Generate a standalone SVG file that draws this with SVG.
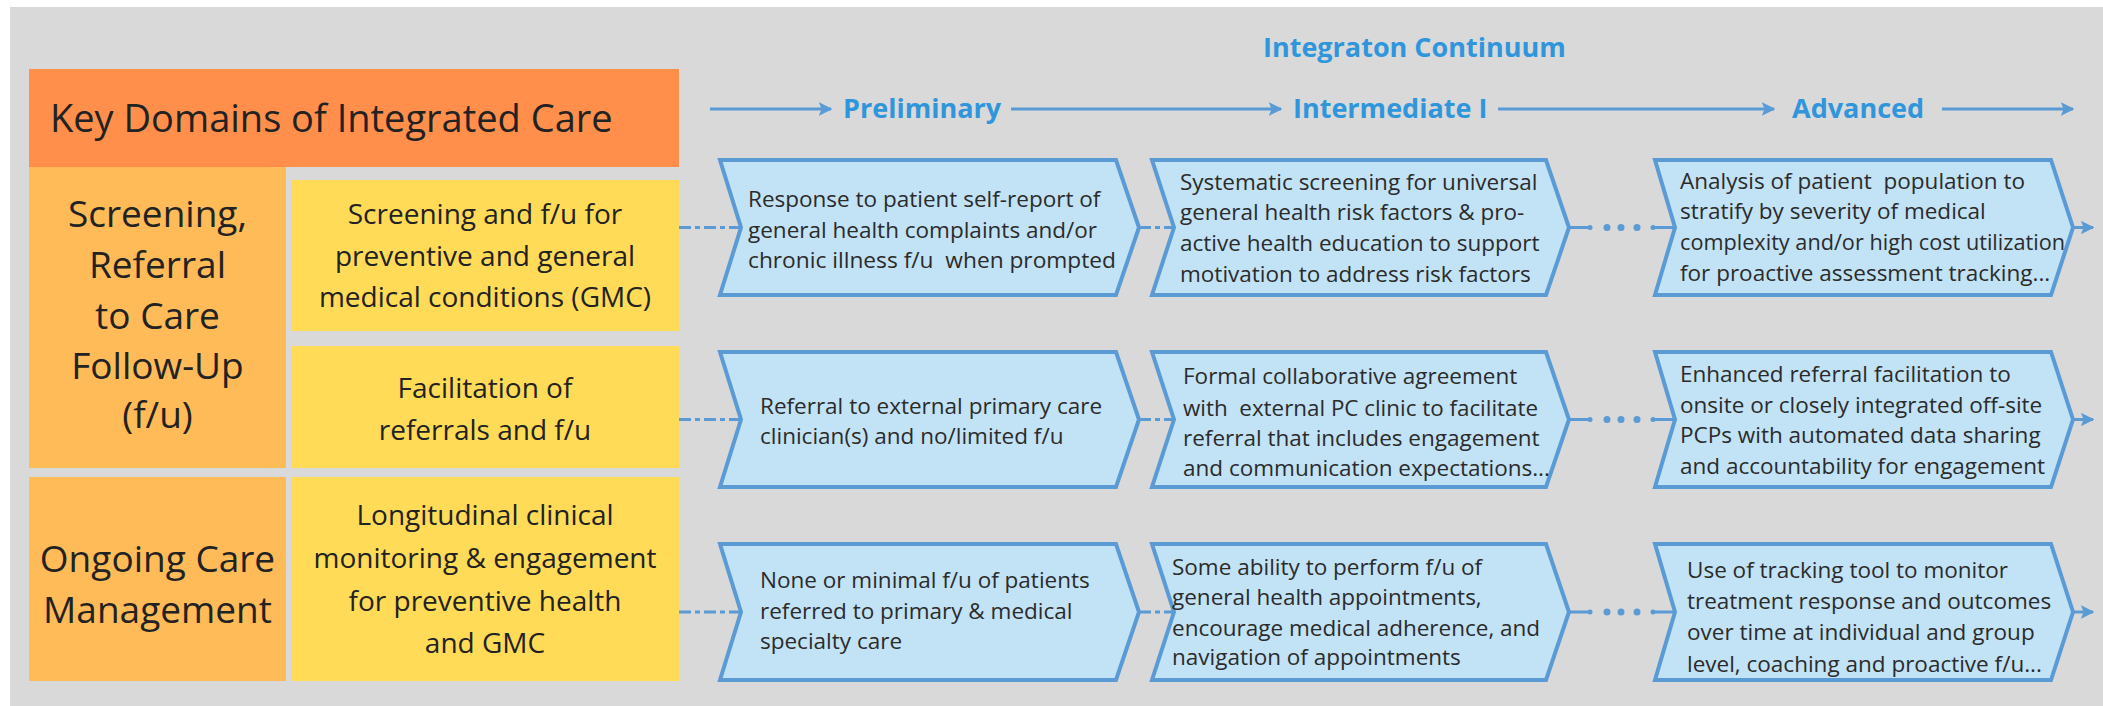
<svg xmlns="http://www.w3.org/2000/svg" width="2103" height="706" viewBox="0 0 2103 706">
<defs>
<style>
.bg{fill:#d9d9d9}
.hdr{fill:#ff8f4b}
.dom{fill:#ffbb58}
.sub{fill:#ffdb58}
.chev{fill:#c2e2f6;stroke:#5b9bd5;stroke-width:4;stroke-linejoin:miter}
.t{font-family:"Open Sans","Liberation Sans",sans-serif;fill:#222}
.big{font-size:37px;text-anchor:middle}
.mid{font-size:28px;text-anchor:middle}
.sm{font-size:22.5px;fill:#2b2b2b;white-space:pre}
.blue{font-family:"Open Sans","Liberation Sans",sans-serif;font-weight:700;fill:#2f96dc;font-size:27px}
.ln{stroke:#5b9bd5;stroke-width:3;fill:none}
.dash{stroke:#5b9bd5;stroke-width:3;fill:none;stroke-dasharray:12 4 5 4}
.dot{fill:#5b9bd5}
</style>
<marker id="ah" viewBox="0 0 10 10" refX="9" refY="5" markerWidth="4.5" markerHeight="4.5" orient="auto" markerUnits="strokeWidth">
<path d="M0,0 L10,5 L0,10 L2,5 z" fill="#5b9bd5"/>
</marker>
</defs>
<rect class="bg" x="10" y="7" width="2093" height="699"/>

<g id="title">
<text class="blue" x="1263" y="57">Integraton Continuum</text>
</g>

<g id="stages">
<text class="blue" x="843" y="118">Preliminary</text>
<text class="blue" x="1293" y="118">Intermediate I</text>
<text class="blue" x="1792" y="118">Advanced</text>
</g>

<g id="header">
<rect class="hdr" x="29" y="69" width="650" height="98"/>
<text class="t" x="50" y="132" font-size="38">Key Domains of Integrated Care</text>
</g>

<g id="domain-screening">
<rect class="dom" x="29" y="167" width="257" height="301"/>
<text class="t big" x="157.5" y="227">Screening,</text>
<text class="t big" x="157.5" y="278">Referral</text>
<text class="t big" x="157.5" y="329">to Care</text>
<text class="t big" x="157.5" y="379">Follow-Up</text>
<text class="t big" x="157.5" y="428">(f/u)</text>
</g>

<g id="domain-ongoing">
<rect class="dom" x="29" y="477" width="257" height="204"/>
<text class="t big" x="157.5" y="572">Ongoing Care</text>
<text class="t big" x="157.5" y="623">Management</text>
</g>

<g id="sub-screening">
<rect class="sub" x="291" y="180" width="388" height="151"/>
<text class="t mid" x="485" y="224">Screening and f/u for</text>
<text class="t mid" x="485" y="265.5">preventive and general</text>
<text class="t mid" x="485" y="307">medical conditions (GMC)</text>
</g>

<g id="sub-referrals">
<rect class="sub" x="291" y="346" width="388" height="122"/>
<text class="t mid" x="485" y="398">Facilitation of</text>
<text class="t mid" x="485" y="440">referrals and f/u</text>
</g>

<g id="sub-longitudinal">
<rect class="sub" x="291" y="477" width="388" height="204"/>
<text class="t mid" x="485" y="525">Longitudinal clinical</text>
<text class="t mid" x="485" y="568">monitoring &amp; engagement</text>
<text class="t mid" x="485" y="611">for preventive health</text>
<text class="t mid" x="485" y="653">and GMC</text>
</g>

<g id="connectors">
<line class="ln" x1="710" y1="109" x2="831" y2="109" marker-end="url(#ah)"/>
<line class="ln" x1="1011" y1="109" x2="1281" y2="109" marker-end="url(#ah)"/>
<line class="ln" x1="1498" y1="109" x2="1774" y2="109" marker-end="url(#ah)"/>
<line class="ln" x1="1942" y1="109" x2="2073" y2="109" marker-end="url(#ah)"/>

<line class="dash" x1="679" y1="227.5" x2="741" y2="227.5"/>
<line class="dash" x1="679" y1="419.5" x2="741" y2="419.5"/>
<line class="dash" x1="679" y1="612" x2="741" y2="612"/>

<line class="dash" x1="1139" y1="227.5" x2="1174" y2="227.5"/>
<line class="dash" x1="1139" y1="419.5" x2="1174" y2="419.5"/>
<line class="dash" x1="1139" y1="612" x2="1174" y2="612"/>

<g id="dots-r1">
<line class="ln" x1="1569" y1="227.5" x2="1589" y2="227.5"/>
<circle class="dot" cx="1590" cy="227.5" r="2.5"/>
<circle class="dot" cx="1607" cy="227.5" r="3.5"/>
<circle class="dot" cx="1621" cy="227.5" r="3.5"/>
<circle class="dot" cx="1637" cy="227.5" r="3.5"/>
<circle class="dot" cx="1653" cy="227.5" r="2.5"/>
<line class="ln" x1="1653" y1="227.5" x2="1675" y2="227.5"/>
</g>
<g id="dots-r2">
<line class="ln" x1="1569" y1="419.5" x2="1589" y2="419.5"/>
<circle class="dot" cx="1590" cy="419.5" r="2.5"/>
<circle class="dot" cx="1607" cy="419.5" r="3.5"/>
<circle class="dot" cx="1621" cy="419.5" r="3.5"/>
<circle class="dot" cx="1637" cy="419.5" r="3.5"/>
<circle class="dot" cx="1653" cy="419.5" r="2.5"/>
<line class="ln" x1="1653" y1="419.5" x2="1675" y2="419.5"/>
</g>
<g id="dots-r3">
<line class="ln" x1="1569" y1="612" x2="1589" y2="612"/>
<circle class="dot" cx="1590" cy="612" r="2.5"/>
<circle class="dot" cx="1607" cy="612" r="3.5"/>
<circle class="dot" cx="1621" cy="612" r="3.5"/>
<circle class="dot" cx="1637" cy="612" r="3.5"/>
<circle class="dot" cx="1653" cy="612" r="2.5"/>
<line class="ln" x1="1653" y1="612" x2="1675" y2="612"/>
</g>

<line class="ln" x1="2073" y1="227.5" x2="2093" y2="227.5" marker-end="url(#ah)"/>
<line class="ln" x1="2073" y1="419.5" x2="2093" y2="419.5" marker-end="url(#ah)"/>
<line class="ln" x1="2073" y1="612" x2="2093" y2="612" marker-end="url(#ah)"/>
</g>

<g id="r1c1">
<polygon class="chev" points="720,160 1116,160 1139,227.5 1116,295 720,295 741,227.5"/>
<text class="t sm" x="748" y="207">Response to patient self-report of</text>
<text class="t sm" x="748" y="238">general health complaints and/or</text>
<text class="t sm" x="748" y="268" textLength="368" lengthAdjust="spacingAndGlyphs">chronic illness f/u  when prompted</text>
</g>
<g id="r1c2">
<polygon class="chev" points="1152,160 1546,160 1569,227.5 1546,295 1152,295 1174,227.5"/>
<text class="t sm" x="1180" y="190">Systematic screening for universal</text>
<text class="t sm" x="1180" y="220">general health risk factors &amp; pro-</text>
<text class="t sm" x="1180" y="251">active health education to support</text>
<text class="t sm" x="1180" y="282">motivation to address risk factors</text>
</g>
<g id="r1c3">
<polygon class="chev" points="1655,160 2051,160 2073,227.5 2051,295 1655,295 1675,227.5"/>
<text class="t sm" x="1680" y="189">Analysis of patient  population to</text>
<text class="t sm" x="1680" y="219">stratify by severity of medical</text>
<text class="t sm" x="1680" y="250" textLength="385" lengthAdjust="spacingAndGlyphs">complexity and/or high cost utilization</text>
<text class="t sm" x="1680" y="281">for proactive assessment tracking...</text>
</g>

<g id="r2c1">
<polygon class="chev" points="720,352 1116,352 1139,419.5 1116,487 720,487 741,419.5"/>
<text class="t sm" x="760" y="414">Referral to external primary care</text>
<text class="t sm" x="760" y="444">clinician(s) and no/limited f/u</text>
</g>
<g id="r2c2">
<polygon class="chev" points="1152,352 1546,352 1569,419.5 1546,487 1152,487 1174,419.5"/>
<text class="t sm" x="1183" y="384">Formal collaborative agreement</text>
<text class="t sm" x="1183" y="416" textLength="355" lengthAdjust="spacingAndGlyphs">with  external PC clinic to facilitate</text>
<text class="t sm" x="1183" y="446">referral that includes engagement</text>
<text class="t sm" x="1183" y="476">and communication expectations...</text>
</g>
<g id="r2c3">
<polygon class="chev" points="1655,352 2051,352 2073,419.5 2051,487 1655,487 1675,419.5"/>
<text class="t sm" x="1680" y="382">Enhanced referral facilitation to</text>
<text class="t sm" x="1680" y="413">onsite or closely integrated off-site</text>
<text class="t sm" x="1680" y="443">PCPs with automated data sharing</text>
<text class="t sm" x="1680" y="474">and accountability for engagement</text>
</g>

<g id="r3c1">
<polygon class="chev" points="720,544 1116,544 1139,612 1116,680 720,680 741,612"/>
<text class="t sm" x="760" y="588">None or minimal f/u of patients</text>
<text class="t sm" x="760" y="619">referred to primary &amp; medical</text>
<text class="t sm" x="760" y="649">specialty care</text>
</g>
<g id="r3c2">
<polygon class="chev" points="1152,544 1546,544 1569,612 1546,680 1152,680 1174,612"/>
<text class="t sm" x="1172" y="575">Some ability to perform f/u of</text>
<text class="t sm" x="1172" y="605">general health appointments,</text>
<text class="t sm" x="1172" y="636">encourage medical adherence, and</text>
<text class="t sm" x="1172" y="665">navigation of appointments</text>
</g>
<g id="r3c3">
<polygon class="chev" points="1655,544 2051,544 2073,612 2051,680 1655,680 1675,612"/>
<text class="t sm" x="1687" y="578">Use of tracking tool to monitor</text>
<text class="t sm" x="1687" y="609">treatment response and outcomes</text>
<text class="t sm" x="1687" y="640">over time at individual and group</text>
<text class="t sm" x="1687" y="672">level, coaching and proactive f/u...</text>
</g>
</svg>
